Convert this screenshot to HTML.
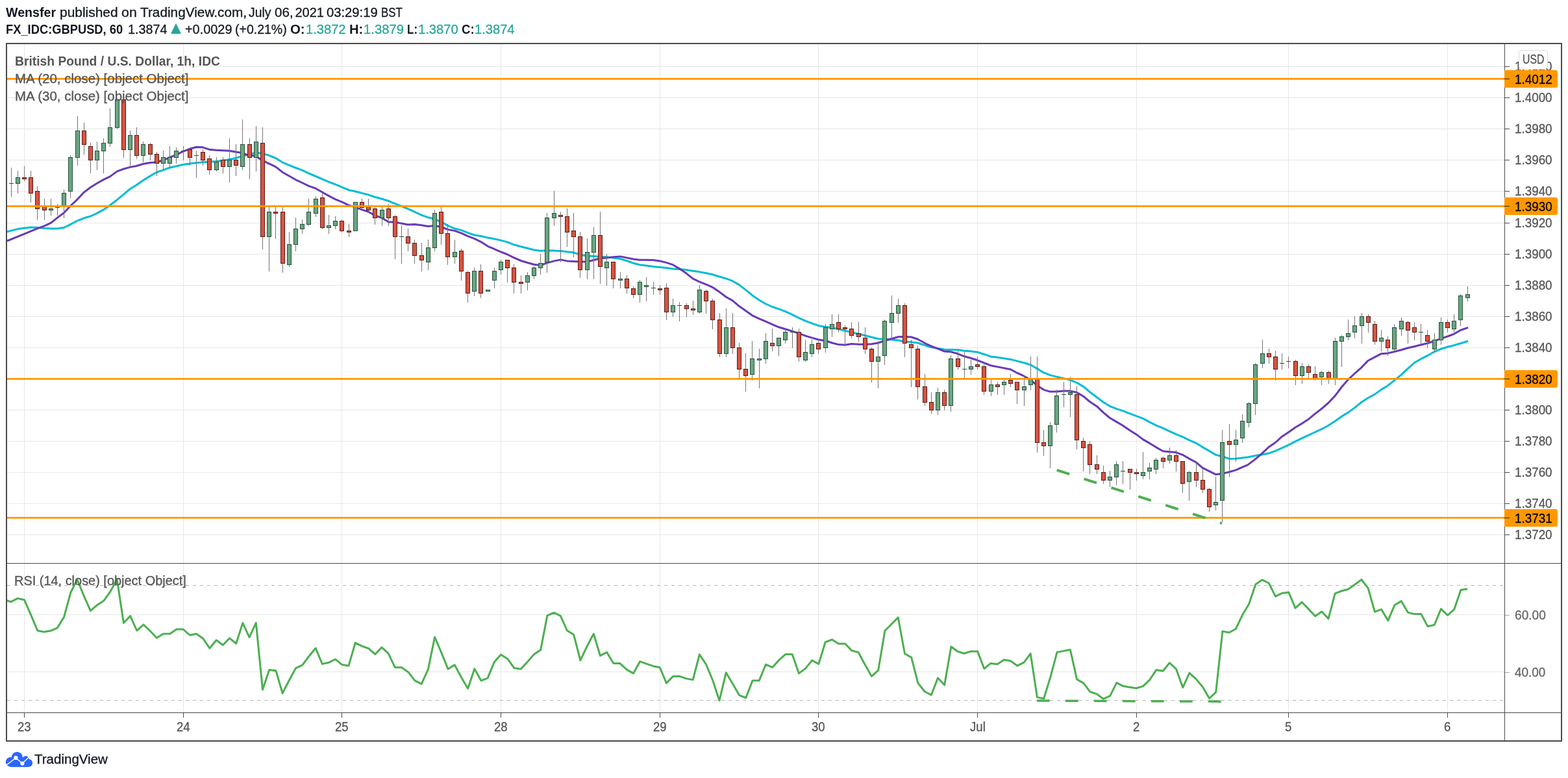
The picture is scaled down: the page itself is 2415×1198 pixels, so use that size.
<!DOCTYPE html><html lang="en"><head><meta charset="utf-8"><title>GBPUSD chart - TradingView</title><style>
html,body{margin:0;padding:0;background:#fff;}
body{width:2415px;height:1198px;position:relative;overflow:hidden;font-family:"Liberation Sans",sans-serif;}
.cv{position:absolute;left:0;top:0;}
.t{position:absolute;display:block;white-space:pre;line-height:1;transform-origin:0 0;}
.ob{position:absolute;left:2317px;width:82px;height:27px;background:#ff9800;border-radius:0 3px 3px 0;z-index:2;}
.ob i{position:absolute;left:0;top:13px;width:8px;height:1px;background:#2a2a2a;}
.usd{position:absolute;left:2339px;top:77px;width:43px;height:28px;border:1px solid #d6d9e0;border-radius:5px;background:#fff;z-index:4;}
.tri{position:absolute;left:262.6px;top:35.6px;width:0;height:0;border-left:8.5px solid transparent;border-right:8.5px solid transparent;border-bottom:16.4px solid #26a69a;}
.logo{position:absolute;left:0;top:1145px;}
</style></head><body>
<header>
<span class="t" style="left:9.44px;top:8.90px;font-size:20px;color:#131722;font-weight:bold;transform:scaleX(0.9812);">Wensfer</span>
<span class="t" style="left:92.10px;top:8.90px;font-size:20px;color:#131722;-webkit-text-stroke:0.3px #131722;transform:scaleX(1.0464);">published</span>
<span class="t" style="left:186.97px;top:8.90px;font-size:20px;color:#131722;-webkit-text-stroke:0.3px #131722;transform:scaleX(1.0686);">on</span>
<span class="t" style="left:215.62px;top:8.90px;font-size:20px;color:#131722;-webkit-text-stroke:0.3px #131722;transform:scaleX(1.0395);">TradingView.com,</span>
<span class="t" style="left:383.46px;top:8.90px;font-size:20px;color:#131722;-webkit-text-stroke:0.3px #131722;transform:scaleX(0.9650);">July</span>
<span class="t" style="left:422.56px;top:8.90px;font-size:20px;color:#131722;-webkit-text-stroke:0.3px #131722;transform:scaleX(1.0317);">06,</span>
<span class="t" style="left:454.50px;top:8.90px;font-size:20px;color:#131722;-webkit-text-stroke:0.3px #131722;">2021</span>
<span class="t" style="left:503.38px;top:8.90px;font-size:20px;color:#131722;-webkit-text-stroke:0.3px #131722;transform:scaleX(1.0112);">03:29:19</span>
<span class="t" style="left:587.22px;top:8.90px;font-size:20px;color:#131722;-webkit-text-stroke:0.3px #131722;transform:scaleX(0.8410);">BST</span>
<span class="t" style="left:9.15px;top:34.80px;font-size:20px;color:#131722;font-weight:bold;transform:scaleX(0.9158);">FX_IDC:GBPUSD, 60</span>
<span class="t" style="left:197.28px;top:34.80px;font-size:20px;color:#131722;-webkit-text-stroke:0.3px #131722;transform:scaleX(0.9901);">1.3874</span>
<span class="tri"></span>
<span class="t" style="left:284.62px;top:34.80px;font-size:20px;color:#131722;-webkit-text-stroke:0.3px #131722;transform:scaleX(0.9947);">+0.0029</span>
<span class="t" style="left:361.96px;top:34.80px;font-size:20px;color:#131722;-webkit-text-stroke:0.3px #131722;transform:scaleX(0.9757);">(+0.21%)</span>
<span class="t" style="left:447.49px;top:34.80px;font-size:20px;color:#131722;font-weight:bold;transform:scaleX(1.0183);">O:</span>
<span class="t" style="left:470.55px;top:34.80px;font-size:20px;color:#26a69a;-webkit-text-stroke:0.3px #26a69a;transform:scaleX(1.0053);">1.3872</span>
<span class="t" style="left:537.53px;top:34.80px;font-size:20px;color:#131722;font-weight:bold;transform:scaleX(1.0070);">H:</span>
<span class="t" style="left:559.54px;top:34.80px;font-size:20px;color:#26a69a;-webkit-text-stroke:0.3px #26a69a;transform:scaleX(1.0120);">1.3879</span>
<span class="t" style="left:626.74px;top:34.80px;font-size:20px;color:#131722;font-weight:bold;transform:scaleX(0.8515);">L:</span>
<span class="t" style="left:643.85px;top:34.80px;font-size:20px;color:#26a69a;-webkit-text-stroke:0.3px #26a69a;transform:scaleX(1.0094);">1.3870</span>
<span class="t" style="left:710.57px;top:34.80px;font-size:20px;color:#131722;font-weight:bold;transform:scaleX(0.9321);">C:</span>
<span class="t" style="left:730.65px;top:34.80px;font-size:20px;color:#26a69a;-webkit-text-stroke:0.3px #26a69a;transform:scaleX(1.0054);">1.3874</span>
</header>
<main>
<svg class="cv" width="2415" height="1198" viewBox="0 0 2415 1198">
<g fill="#e6e6e6" shape-rendering="crispEdges">
<rect x="37" y="68" width="1" height="799"/><rect x="37" y="868" width="1" height="229"/>
<rect x="282" y="68" width="1" height="799"/><rect x="282" y="868" width="1" height="229"/>
<rect x="526" y="68" width="1" height="799"/><rect x="526" y="868" width="1" height="229"/>
<rect x="771" y="68" width="1" height="799"/><rect x="771" y="868" width="1" height="229"/>
<rect x="1016" y="68" width="1" height="799"/><rect x="1016" y="868" width="1" height="229"/>
<rect x="1260" y="68" width="1" height="799"/><rect x="1260" y="868" width="1" height="229"/>
<rect x="1505" y="68" width="1" height="799"/><rect x="1505" y="868" width="1" height="229"/>
<rect x="1750" y="68" width="1" height="799"/><rect x="1750" y="868" width="1" height="229"/>
<rect x="1984" y="68" width="1" height="799"/><rect x="1984" y="868" width="1" height="229"/>
<rect x="2229" y="68" width="1" height="799"/><rect x="2229" y="868" width="1" height="229"/>
<rect x="11" y="102" width="2306" height="1"/>
<rect x="11" y="150" width="2306" height="1"/>
<rect x="11" y="198" width="2306" height="1"/>
<rect x="11" y="246" width="2306" height="1"/>
<rect x="11" y="294" width="2306" height="1"/>
<rect x="11" y="343" width="2306" height="1"/>
<rect x="11" y="391" width="2306" height="1"/>
<rect x="11" y="439" width="2306" height="1"/>
<rect x="11" y="487" width="2306" height="1"/>
<rect x="11" y="535" width="2306" height="1"/>
<rect x="11" y="583" width="2306" height="1"/>
<rect x="11" y="631" width="2306" height="1"/>
<rect x="11" y="679" width="2306" height="1"/>
<rect x="11" y="727" width="2306" height="1"/>
<rect x="11" y="775" width="2306" height="1"/>
<rect x="11" y="823" width="2306" height="1"/>
<rect x="11" y="946" width="2306" height="1"/>
<rect x="11" y="1034" width="2306" height="1"/>
</g>
<g stroke="#b4b4b4" stroke-width="1" stroke-dasharray="5 6" shape-rendering="crispEdges">
<line x1="11" y1="901.5" x2="2317" y2="901.5"/><line x1="11" y1="1078.5" x2="2317" y2="1078.5"/>
</g>
<svg x="11" y="68" width="2306" height="799" viewBox="11 68 2306 799">
<polyline fill="none" stroke="#00bcd4" stroke-width="3" stroke-linejoin="round" stroke-linecap="butt" points="10.9,356.8 27.5,352.6 47.6,350.1 57.6,350.5 68.4,351.5 78.5,352.1 88.5,352.1 98.5,350.5 108.5,345.6 119.4,339.8 129.4,335.8 139.4,333.0 149.4,328.4 159.4,322.9 169.4,316.0 180.3,307.7 190.3,299.3 200.3,291.0 210.4,284.8 220.4,277.7 231.2,271.1 241.2,265.2 251.3,261.9 261.3,258.2 271.3,256.0 282.1,253.5 292.2,251.9 302.2,250.7 312.2,249.8 322.2,249.3 333.4,248.5 343.4,247.3 353.4,245.5 363.4,243.5 373.5,240.2 385.6,237.2 394.5,235.0 404.5,236.4 414.6,239.4 424.6,243.5 435.1,250.1 445.4,254.3 455.5,258.5 465.5,262.2 475.5,266.8 486.3,271.5 496.4,275.8 506.4,280.2 516.4,283.9 526.4,288.2 537.3,292.7 547.3,294.7 557.3,297.4 567.3,299.9 577.3,303.3 588.2,306.2 598.4,309.5 608.4,313.6 618.4,317.5 628.4,321.6 638.4,326.2 649.1,331.2 659.2,334.8 669.3,337.3 679.7,341.7 689.7,347.4 700.2,352.0 710.2,354.4 720.4,358.4 730.5,362.0 740.7,363.5 751.2,366.1 760.9,367.8 771.4,370.1 780.8,372.6 791.7,376.8 802.4,379.8 812.4,382.3 822.4,384.8 832.5,386.3 842.5,385.7 853.5,386.0 863.5,386.5 873.5,387.7 883.5,388.8 893.6,392.2 904.4,394.0 914.4,394.4 924.4,395.2 934.5,395.7 944.5,396.9 955.3,398.5 965.3,401.5 975.4,405.2 985.4,407.7 995.4,409.0 1006.2,410.6 1016.3,411.6 1026.3,412.4 1036.3,414.1 1046.3,414.4 1057.2,415.6 1067.2,417.2 1077.2,418.6 1087.2,420.5 1097.6,422.7 1108.1,426.0 1118.2,428.9 1128.3,432.7 1138.4,438.6 1148.5,446.4 1159.6,455.4 1169.5,462.2 1179.6,468.0 1189.6,472.5 1199.6,475.9 1209.6,479.7 1220.5,484.7 1230.5,489.7 1240.5,494.2 1250.5,497.9 1260.5,501.4 1271.6,503.4 1281.6,504.8 1291.6,506.8 1301.6,509.3 1311.6,511.8 1322.5,514.3 1332.5,516.8 1342.5,519.3 1352.5,521.8 1362.5,522.3 1373.4,523.0 1383.4,524.0 1393.4,526.0 1403.4,526.8 1413.5,528.0 1424.5,531.8 1434.5,534.8 1444.5,536.5 1454.5,538.2 1464.5,538.5 1475.4,538.8 1485.4,540.2 1495.4,541.0 1505.6,542.3 1517.8,546.2 1526.5,549.3 1536.4,550.3 1556.4,553.4 1566.4,555.9 1577.3,558.7 1587.3,561.7 1597.3,567.6 1607.3,573.7 1617.3,577.6 1627.3,580.1 1638.2,582.6 1648.2,585.1 1658.4,589.3 1668.4,595.1 1678.4,603.5 1689.3,611.8 1699.3,619.3 1709.3,625.5 1719.3,629.3 1729.3,632.7 1740.2,636.8 1750.2,640.7 1760.4,644.4 1770.4,649.9 1780.4,654.9 1791.3,659.4 1801.3,664.1 1811.3,668.6 1821.3,672.7 1831.4,677.7 1842.2,682.3 1852.2,688.6 1861.1,693.6 1872.5,700.4 1882.7,703.0 1893.2,706.4 1903.3,706.3 1913.4,704.9 1921.7,704.0 1933.6,701.6 1943.8,699.9 1954.0,698.1 1964.3,694.4 1974.5,689.9 1984.7,685.2 1994.9,679.9 2005.1,674.9 2015.3,670.2 2025.4,665.5 2035.6,660.7 2045.8,655.2 2056.2,648.5 2066.3,641.3 2076.5,635.1 2086.7,627.6 2096.7,619.5 2107.0,612.7 2117.4,607.1 2127.5,599.9 2137.6,593.7 2147.7,585.6 2158.2,577.2 2168.3,567.6 2178.5,558.5 2188.5,552.7 2198.5,547.7 2209.3,541.5 2219.4,537.3 2229.4,534.3 2239.4,531.8 2249.4,528.8 2261.1,525.2"/>
<polyline fill="none" stroke="#673ab7" stroke-width="3" stroke-linejoin="round" stroke-linecap="butt" points="10.9,371.0 37.6,360.1 57.6,351.8 68.4,347.9 78.5,343.1 88.5,335.1 98.5,327.7 108.5,317.0 119.4,306.8 129.4,296.1 139.4,288.5 149.4,282.2 159.4,276.6 169.4,271.9 180.3,263.9 190.3,260.2 200.3,257.4 210.4,255.5 220.4,252.4 231.2,250.5 241.2,249.8 251.3,246.8 261.3,242.3 271.3,238.5 282.1,233.2 292.2,229.3 302.2,226.5 312.2,226.8 322.2,230.2 333.4,231.3 343.4,231.7 353.4,232.2 363.4,234.0 373.5,235.5 382.2,239.1 394.0,240.3 402.3,246.0 414.6,252.1 424.6,256.8 435.1,265.2 445.4,271.0 455.5,276.8 465.5,281.5 475.5,286.4 486.3,290.2 496.4,296.0 506.4,301.6 516.4,306.8 526.4,310.8 537.3,316.1 547.3,319.1 557.3,322.9 567.3,326.0 577.3,331.6 588.2,335.6 598.4,341.8 608.4,342.0 618.4,344.1 628.4,345.9 638.4,345.4 649.1,346.7 659.2,348.4 669.3,347.5 679.7,349.5 689.7,353.4 700.2,355.4 710.2,358.9 720.4,363.7 730.5,367.3 740.6,372.3 751.5,379.3 760.7,383.2 771.4,387.9 780.8,391.5 791.7,396.9 802.4,401.5 812.4,404.5 822.4,407.2 832.5,408.5 842.5,404.9 853.5,401.9 863.5,399.9 873.5,401.9 883.5,402.4 893.6,403.0 904.4,403.0 914.4,400.5 924.4,397.7 934.5,396.9 944.5,395.7 955.3,394.9 965.3,396.9 975.4,399.0 985.4,400.2 995.4,400.2 1006.2,400.5 1016.3,401.9 1026.3,404.4 1036.3,407.7 1046.3,413.6 1057.2,421.1 1067.2,429.1 1077.2,433.9 1087.2,437.9 1097.6,442.4 1108.1,449.6 1118.2,457.3 1128.3,462.9 1138.9,471.8 1148.5,478.5 1159.3,486.2 1169.5,490.9 1179.6,495.1 1189.6,499.6 1199.6,503.8 1209.6,506.8 1220.5,510.1 1230.5,513.4 1240.5,517.1 1250.5,520.1 1260.5,523.0 1271.6,524.8 1281.6,528.0 1291.6,530.6 1301.6,531.3 1311.6,529.6 1322.5,530.3 1332.5,530.3 1342.5,529.8 1352.5,528.0 1362.5,524.8 1373.4,521.5 1383.4,518.8 1393.4,518.5 1403.4,519.0 1413.5,522.3 1424.5,528.5 1434.5,533.1 1444.5,536.8 1454.5,541.0 1464.5,541.8 1475.4,544.8 1485.4,548.8 1495.4,551.5 1505.6,554.8 1517.8,559.7 1526.5,563.0 1536.4,564.9 1556.4,568.7 1566.4,574.2 1577.3,579.2 1587.3,585.1 1597.3,593.4 1607.3,600.1 1617.3,603.1 1627.3,603.0 1638.2,602.1 1648.2,602.1 1658.4,604.3 1668.4,610.1 1678.4,618.5 1689.3,625.7 1699.3,635.2 1709.3,643.5 1719.3,649.4 1729.3,655.2 1740.2,662.7 1750.2,668.9 1760.4,676.6 1770.4,682.4 1780.4,688.6 1791.3,694.8 1801.3,695.8 1811.3,696.6 1821.3,700.3 1831.4,706.1 1842.2,712.0 1852.2,720.3 1861.1,724.9 1872.5,730.6 1882.7,729.4 1893.2,726.7 1903.3,723.9 1913.4,719.4 1921.7,715.9 1933.6,706.9 1943.8,698.2 1954.0,688.5 1964.3,681.5 1974.5,672.2 1984.7,665.5 1994.9,658.2 2005.1,652.2 2015.3,645.6 2025.4,637.1 2035.6,629.3 2045.8,620.5 2056.3,609.4 2066.4,596.0 2076.5,584.3 2086.6,575.0 2096.7,566.1 2106.8,555.5 2117.5,549.9 2127.5,544.7 2137.6,543.9 2147.6,541.5 2158.4,538.8 2168.4,535.7 2178.5,533.5 2188.5,531.0 2198.5,528.5 2209.3,525.2 2219.4,521.3 2229.4,518.0 2239.4,514.3 2249.4,508.5 2261.1,504.3"/>
<g shape-rendering="crispEdges">
<rect x="17" y="258" width="1" height="45" fill="#737375"/>
<rect x="14" y="282" width="7" height="1" fill="#225437"/>
<rect x="27" y="263" width="1" height="35" fill="#737375"/>
<rect x="24" y="273" width="7" height="10" fill="#225437"/>
<rect x="25" y="274" width="5" height="8" fill="#6ba583"/>
<rect x="37" y="256" width="1" height="23" fill="#737375"/>
<rect x="34" y="273" width="7" height="3" fill="#5b1a13"/>
<rect x="35" y="274" width="5" height="1" fill="#d75442"/>
<rect x="47" y="263" width="1" height="49" fill="#737375"/>
<rect x="44" y="273" width="7" height="25" fill="#5b1a13"/>
<rect x="45" y="274" width="5" height="23" fill="#d75442"/>
<rect x="57" y="287" width="1" height="52" fill="#737375"/>
<rect x="54" y="294" width="7" height="28" fill="#5b1a13"/>
<rect x="55" y="295" width="5" height="26" fill="#d75442"/>
<rect x="68" y="306" width="1" height="33" fill="#737375"/>
<rect x="65" y="317" width="7" height="7" fill="#5b1a13"/>
<rect x="66" y="318" width="5" height="5" fill="#d75442"/>
<rect x="78" y="306" width="1" height="26" fill="#737375"/>
<rect x="75" y="321" width="7" height="3" fill="#225437"/>
<rect x="76" y="322" width="5" height="1" fill="#6ba583"/>
<rect x="88" y="314" width="1" height="18" fill="#737375"/>
<rect x="85" y="319" width="7" height="1" fill="#225437"/>
<rect x="98" y="292" width="1" height="44" fill="#737375"/>
<rect x="95" y="297" width="7" height="20" fill="#225437"/>
<rect x="96" y="298" width="5" height="18" fill="#6ba583"/>
<rect x="108" y="239" width="1" height="66" fill="#737375"/>
<rect x="105" y="242" width="7" height="53" fill="#225437"/>
<rect x="106" y="243" width="5" height="51" fill="#6ba583"/>
<rect x="119" y="179" width="1" height="76" fill="#737375"/>
<rect x="116" y="201" width="7" height="42" fill="#225437"/>
<rect x="117" y="202" width="5" height="40" fill="#6ba583"/>
<rect x="129" y="189" width="1" height="49" fill="#737375"/>
<rect x="126" y="201" width="7" height="22" fill="#5b1a13"/>
<rect x="127" y="202" width="5" height="20" fill="#d75442"/>
<rect x="139" y="220" width="1" height="47" fill="#737375"/>
<rect x="136" y="225" width="7" height="22" fill="#5b1a13"/>
<rect x="137" y="226" width="5" height="20" fill="#d75442"/>
<rect x="149" y="218" width="1" height="44" fill="#737375"/>
<rect x="146" y="232" width="7" height="15" fill="#225437"/>
<rect x="147" y="233" width="5" height="13" fill="#6ba583"/>
<rect x="159" y="213" width="1" height="54" fill="#737375"/>
<rect x="156" y="220" width="7" height="13" fill="#225437"/>
<rect x="157" y="221" width="5" height="11" fill="#6ba583"/>
<rect x="169" y="167" width="1" height="59" fill="#737375"/>
<rect x="166" y="196" width="7" height="25" fill="#225437"/>
<rect x="167" y="197" width="5" height="23" fill="#6ba583"/>
<rect x="180" y="153" width="1" height="46" fill="#737375"/>
<rect x="177" y="153" width="7" height="44" fill="#225437"/>
<rect x="178" y="154" width="5" height="42" fill="#6ba583"/>
<rect x="190" y="153" width="1" height="90" fill="#737375"/>
<rect x="187" y="153" width="7" height="78" fill="#5b1a13"/>
<rect x="188" y="154" width="5" height="76" fill="#d75442"/>
<rect x="200" y="201" width="1" height="56" fill="#737375"/>
<rect x="197" y="208" width="7" height="23" fill="#225437"/>
<rect x="198" y="209" width="5" height="21" fill="#6ba583"/>
<rect x="210" y="196" width="1" height="49" fill="#737375"/>
<rect x="207" y="208" width="7" height="32" fill="#5b1a13"/>
<rect x="208" y="209" width="5" height="30" fill="#d75442"/>
<rect x="220" y="218" width="1" height="32" fill="#737375"/>
<rect x="217" y="222" width="7" height="18" fill="#225437"/>
<rect x="218" y="223" width="5" height="16" fill="#6ba583"/>
<rect x="231" y="220" width="1" height="27" fill="#737375"/>
<rect x="228" y="222" width="7" height="16" fill="#5b1a13"/>
<rect x="229" y="223" width="5" height="14" fill="#d75442"/>
<rect x="241" y="234" width="1" height="37" fill="#737375"/>
<rect x="238" y="237" width="7" height="15" fill="#5b1a13"/>
<rect x="239" y="238" width="5" height="13" fill="#d75442"/>
<rect x="251" y="232" width="1" height="30" fill="#737375"/>
<rect x="248" y="242" width="7" height="10" fill="#225437"/>
<rect x="249" y="243" width="5" height="8" fill="#6ba583"/>
<rect x="261" y="225" width="1" height="34" fill="#737375"/>
<rect x="258" y="242" width="7" height="10" fill="#225437"/>
<rect x="259" y="243" width="5" height="8" fill="#6ba583"/>
<rect x="271" y="227" width="1" height="25" fill="#737375"/>
<rect x="268" y="232" width="7" height="11" fill="#225437"/>
<rect x="269" y="233" width="5" height="9" fill="#6ba583"/>
<rect x="282" y="225" width="1" height="22" fill="#737375"/>
<rect x="279" y="232" width="7" height="1" fill="#225437"/>
<rect x="292" y="227" width="1" height="28" fill="#737375"/>
<rect x="289" y="230" width="7" height="13" fill="#5b1a13"/>
<rect x="290" y="231" width="5" height="11" fill="#d75442"/>
<rect x="302" y="232" width="1" height="42" fill="#737375"/>
<rect x="299" y="239" width="7" height="1" fill="#225437"/>
<rect x="312" y="230" width="1" height="25" fill="#737375"/>
<rect x="309" y="234" width="7" height="13" fill="#5b1a13"/>
<rect x="310" y="235" width="5" height="11" fill="#d75442"/>
<rect x="322" y="239" width="1" height="30" fill="#737375"/>
<rect x="319" y="244" width="7" height="18" fill="#5b1a13"/>
<rect x="320" y="245" width="5" height="16" fill="#d75442"/>
<rect x="333" y="242" width="1" height="22" fill="#737375"/>
<rect x="330" y="249" width="7" height="13" fill="#225437"/>
<rect x="331" y="250" width="5" height="11" fill="#6ba583"/>
<rect x="343" y="242" width="1" height="25" fill="#737375"/>
<rect x="340" y="246" width="7" height="11" fill="#5b1a13"/>
<rect x="341" y="247" width="5" height="9" fill="#d75442"/>
<rect x="353" y="213" width="1" height="68" fill="#737375"/>
<rect x="350" y="246" width="7" height="11" fill="#225437"/>
<rect x="351" y="247" width="5" height="9" fill="#6ba583"/>
<rect x="363" y="222" width="1" height="49" fill="#737375"/>
<rect x="360" y="246" width="7" height="9" fill="#5b1a13"/>
<rect x="361" y="247" width="5" height="7" fill="#d75442"/>
<rect x="373" y="184" width="1" height="78" fill="#737375"/>
<rect x="370" y="222" width="7" height="35" fill="#225437"/>
<rect x="371" y="223" width="5" height="33" fill="#6ba583"/>
<rect x="384" y="213" width="1" height="63" fill="#737375"/>
<rect x="381" y="222" width="7" height="21" fill="#5b1a13"/>
<rect x="382" y="223" width="5" height="19" fill="#d75442"/>
<rect x="394" y="194" width="1" height="70" fill="#737375"/>
<rect x="391" y="218" width="7" height="25" fill="#225437"/>
<rect x="392" y="219" width="5" height="23" fill="#6ba583"/>
<rect x="404" y="196" width="1" height="188" fill="#737375"/>
<rect x="401" y="220" width="7" height="145" fill="#5b1a13"/>
<rect x="402" y="221" width="5" height="143" fill="#d75442"/>
<rect x="414" y="319" width="1" height="99" fill="#737375"/>
<rect x="411" y="326" width="7" height="39" fill="#225437"/>
<rect x="412" y="327" width="5" height="37" fill="#6ba583"/>
<rect x="424" y="319" width="1" height="49" fill="#737375"/>
<rect x="421" y="326" width="7" height="3" fill="#5b1a13"/>
<rect x="422" y="327" width="5" height="1" fill="#d75442"/>
<rect x="435" y="319" width="1" height="101" fill="#737375"/>
<rect x="432" y="326" width="7" height="80" fill="#5b1a13"/>
<rect x="433" y="327" width="5" height="78" fill="#d75442"/>
<rect x="445" y="357" width="1" height="54" fill="#737375"/>
<rect x="442" y="376" width="7" height="32" fill="#225437"/>
<rect x="443" y="377" width="5" height="30" fill="#6ba583"/>
<rect x="455" y="335" width="1" height="52" fill="#737375"/>
<rect x="452" y="352" width="7" height="25" fill="#225437"/>
<rect x="453" y="353" width="5" height="23" fill="#6ba583"/>
<rect x="465" y="338" width="1" height="22" fill="#737375"/>
<rect x="462" y="345" width="7" height="8" fill="#225437"/>
<rect x="463" y="346" width="5" height="6" fill="#6ba583"/>
<rect x="475" y="306" width="1" height="42" fill="#737375"/>
<rect x="472" y="326" width="7" height="20" fill="#225437"/>
<rect x="473" y="327" width="5" height="18" fill="#6ba583"/>
<rect x="486" y="302" width="1" height="32" fill="#737375"/>
<rect x="483" y="306" width="7" height="23" fill="#225437"/>
<rect x="484" y="307" width="5" height="21" fill="#6ba583"/>
<rect x="496" y="297" width="1" height="56" fill="#737375"/>
<rect x="493" y="304" width="7" height="47" fill="#5b1a13"/>
<rect x="494" y="305" width="5" height="45" fill="#d75442"/>
<rect x="506" y="331" width="1" height="29" fill="#737375"/>
<rect x="503" y="347" width="7" height="4" fill="#225437"/>
<rect x="504" y="348" width="5" height="2" fill="#6ba583"/>
<rect x="516" y="333" width="1" height="20" fill="#737375"/>
<rect x="513" y="340" width="7" height="8" fill="#225437"/>
<rect x="514" y="341" width="5" height="6" fill="#6ba583"/>
<rect x="526" y="338" width="1" height="20" fill="#737375"/>
<rect x="523" y="340" width="7" height="16" fill="#5b1a13"/>
<rect x="524" y="341" width="5" height="14" fill="#d75442"/>
<rect x="537" y="345" width="1" height="20" fill="#737375"/>
<rect x="534" y="355" width="7" height="3" fill="#5b1a13"/>
<rect x="535" y="356" width="5" height="1" fill="#d75442"/>
<rect x="547" y="311" width="1" height="45" fill="#737375"/>
<rect x="544" y="311" width="7" height="45" fill="#225437"/>
<rect x="545" y="312" width="5" height="43" fill="#6ba583"/>
<rect x="557" y="306" width="1" height="18" fill="#737375"/>
<rect x="554" y="311" width="7" height="9" fill="#5b1a13"/>
<rect x="555" y="312" width="5" height="7" fill="#d75442"/>
<rect x="567" y="306" width="1" height="21" fill="#737375"/>
<rect x="564" y="317" width="7" height="7" fill="#5b1a13"/>
<rect x="565" y="318" width="5" height="5" fill="#d75442"/>
<rect x="577" y="319" width="1" height="27" fill="#737375"/>
<rect x="574" y="321" width="7" height="15" fill="#5b1a13"/>
<rect x="575" y="322" width="5" height="13" fill="#d75442"/>
<rect x="588" y="319" width="1" height="29" fill="#737375"/>
<rect x="585" y="323" width="7" height="13" fill="#225437"/>
<rect x="586" y="324" width="5" height="11" fill="#6ba583"/>
<rect x="598" y="314" width="1" height="34" fill="#737375"/>
<rect x="595" y="321" width="7" height="15" fill="#5b1a13"/>
<rect x="596" y="322" width="5" height="13" fill="#d75442"/>
<rect x="608" y="331" width="1" height="68" fill="#737375"/>
<rect x="605" y="333" width="7" height="32" fill="#5b1a13"/>
<rect x="606" y="334" width="5" height="30" fill="#d75442"/>
<rect x="618" y="347" width="1" height="59" fill="#737375"/>
<rect x="615" y="364" width="7" height="1" fill="#225437"/>
<rect x="628" y="352" width="1" height="35" fill="#737375"/>
<rect x="625" y="364" width="7" height="11" fill="#5b1a13"/>
<rect x="626" y="365" width="5" height="9" fill="#d75442"/>
<rect x="638" y="369" width="1" height="37" fill="#737375"/>
<rect x="635" y="374" width="7" height="20" fill="#5b1a13"/>
<rect x="636" y="375" width="5" height="18" fill="#d75442"/>
<rect x="649" y="374" width="1" height="44" fill="#737375"/>
<rect x="646" y="393" width="7" height="8" fill="#5b1a13"/>
<rect x="647" y="394" width="5" height="6" fill="#d75442"/>
<rect x="659" y="369" width="1" height="47" fill="#737375"/>
<rect x="656" y="381" width="7" height="23" fill="#225437"/>
<rect x="657" y="382" width="5" height="21" fill="#6ba583"/>
<rect x="669" y="323" width="1" height="64" fill="#737375"/>
<rect x="666" y="328" width="7" height="54" fill="#225437"/>
<rect x="667" y="329" width="5" height="52" fill="#6ba583"/>
<rect x="679" y="319" width="1" height="58" fill="#737375"/>
<rect x="676" y="326" width="7" height="34" fill="#5b1a13"/>
<rect x="677" y="327" width="5" height="32" fill="#d75442"/>
<rect x="689" y="345" width="1" height="63" fill="#737375"/>
<rect x="686" y="359" width="7" height="37" fill="#5b1a13"/>
<rect x="687" y="360" width="5" height="35" fill="#d75442"/>
<rect x="700" y="369" width="1" height="37" fill="#737375"/>
<rect x="697" y="388" width="7" height="8" fill="#225437"/>
<rect x="698" y="389" width="5" height="6" fill="#6ba583"/>
<rect x="710" y="383" width="1" height="49" fill="#737375"/>
<rect x="707" y="386" width="7" height="32" fill="#5b1a13"/>
<rect x="708" y="387" width="5" height="30" fill="#d75442"/>
<rect x="720" y="417" width="1" height="49" fill="#737375"/>
<rect x="717" y="419" width="7" height="33" fill="#5b1a13"/>
<rect x="718" y="420" width="5" height="31" fill="#d75442"/>
<rect x="730" y="412" width="1" height="44" fill="#737375"/>
<rect x="727" y="417" width="7" height="32" fill="#225437"/>
<rect x="728" y="418" width="5" height="30" fill="#6ba583"/>
<rect x="740" y="407" width="1" height="52" fill="#737375"/>
<rect x="737" y="417" width="7" height="35" fill="#5b1a13"/>
<rect x="738" y="418" width="5" height="33" fill="#d75442"/>
<rect x="751" y="446" width="1" height="2" fill="#737375"/>
<rect x="748" y="446" width="7" height="3" fill="#225437"/>
<rect x="749" y="447" width="5" height="1" fill="#6ba583"/>
<rect x="761" y="412" width="1" height="32" fill="#737375"/>
<rect x="758" y="417" width="7" height="15" fill="#225437"/>
<rect x="759" y="418" width="5" height="13" fill="#6ba583"/>
<rect x="771" y="400" width="1" height="23" fill="#737375"/>
<rect x="768" y="403" width="7" height="13" fill="#225437"/>
<rect x="769" y="404" width="5" height="11" fill="#6ba583"/>
<rect x="781" y="400" width="1" height="35" fill="#737375"/>
<rect x="778" y="400" width="7" height="13" fill="#5b1a13"/>
<rect x="779" y="401" width="5" height="11" fill="#d75442"/>
<rect x="791" y="407" width="1" height="45" fill="#737375"/>
<rect x="788" y="412" width="7" height="23" fill="#5b1a13"/>
<rect x="789" y="413" width="5" height="21" fill="#d75442"/>
<rect x="802" y="424" width="1" height="28" fill="#737375"/>
<rect x="799" y="434" width="7" height="3" fill="#5b1a13"/>
<rect x="800" y="435" width="5" height="1" fill="#d75442"/>
<rect x="812" y="419" width="1" height="28" fill="#737375"/>
<rect x="809" y="424" width="7" height="11" fill="#225437"/>
<rect x="810" y="425" width="5" height="9" fill="#6ba583"/>
<rect x="822" y="410" width="1" height="20" fill="#737375"/>
<rect x="819" y="412" width="7" height="13" fill="#225437"/>
<rect x="820" y="413" width="5" height="11" fill="#6ba583"/>
<rect x="832" y="391" width="1" height="32" fill="#737375"/>
<rect x="829" y="405" width="7" height="8" fill="#225437"/>
<rect x="830" y="406" width="5" height="6" fill="#6ba583"/>
<rect x="842" y="328" width="1" height="92" fill="#737375"/>
<rect x="839" y="335" width="7" height="69" fill="#225437"/>
<rect x="840" y="336" width="5" height="67" fill="#6ba583"/>
<rect x="853" y="294" width="1" height="54" fill="#737375"/>
<rect x="850" y="328" width="7" height="8" fill="#225437"/>
<rect x="851" y="329" width="5" height="6" fill="#6ba583"/>
<rect x="863" y="326" width="1" height="78" fill="#737375"/>
<rect x="860" y="331" width="7" height="3" fill="#5b1a13"/>
<rect x="861" y="332" width="5" height="1" fill="#d75442"/>
<rect x="873" y="321" width="1" height="59" fill="#737375"/>
<rect x="870" y="333" width="7" height="25" fill="#5b1a13"/>
<rect x="871" y="334" width="5" height="23" fill="#d75442"/>
<rect x="883" y="328" width="1" height="68" fill="#737375"/>
<rect x="880" y="355" width="7" height="10" fill="#5b1a13"/>
<rect x="881" y="356" width="5" height="8" fill="#d75442"/>
<rect x="893" y="357" width="1" height="71" fill="#737375"/>
<rect x="890" y="364" width="7" height="52" fill="#5b1a13"/>
<rect x="891" y="365" width="5" height="50" fill="#d75442"/>
<rect x="904" y="367" width="1" height="63" fill="#737375"/>
<rect x="901" y="388" width="7" height="28" fill="#225437"/>
<rect x="902" y="389" width="5" height="26" fill="#6ba583"/>
<rect x="914" y="350" width="1" height="80" fill="#737375"/>
<rect x="911" y="362" width="7" height="27" fill="#225437"/>
<rect x="912" y="363" width="5" height="25" fill="#6ba583"/>
<rect x="924" y="326" width="1" height="111" fill="#737375"/>
<rect x="921" y="362" width="7" height="49" fill="#5b1a13"/>
<rect x="922" y="363" width="5" height="47" fill="#d75442"/>
<rect x="934" y="391" width="1" height="49" fill="#737375"/>
<rect x="931" y="403" width="7" height="10" fill="#225437"/>
<rect x="932" y="404" width="5" height="8" fill="#6ba583"/>
<rect x="944" y="403" width="1" height="41" fill="#737375"/>
<rect x="941" y="403" width="7" height="27" fill="#5b1a13"/>
<rect x="942" y="404" width="5" height="25" fill="#d75442"/>
<rect x="955" y="419" width="1" height="25" fill="#737375"/>
<rect x="952" y="429" width="7" height="3" fill="#225437"/>
<rect x="953" y="430" width="5" height="1" fill="#6ba583"/>
<rect x="965" y="424" width="1" height="28" fill="#737375"/>
<rect x="962" y="429" width="7" height="15" fill="#5b1a13"/>
<rect x="963" y="430" width="5" height="13" fill="#d75442"/>
<rect x="975" y="441" width="1" height="18" fill="#737375"/>
<rect x="972" y="444" width="7" height="10" fill="#5b1a13"/>
<rect x="973" y="445" width="5" height="8" fill="#d75442"/>
<rect x="985" y="431" width="1" height="35" fill="#737375"/>
<rect x="982" y="434" width="7" height="20" fill="#225437"/>
<rect x="983" y="435" width="5" height="18" fill="#6ba583"/>
<rect x="995" y="427" width="1" height="37" fill="#737375"/>
<rect x="992" y="439" width="7" height="3" fill="#225437"/>
<rect x="993" y="440" width="5" height="1" fill="#6ba583"/>
<rect x="1006" y="434" width="1" height="20" fill="#737375"/>
<rect x="1003" y="443" width="7" height="1" fill="#225437"/>
<rect x="1016" y="439" width="1" height="15" fill="#737375"/>
<rect x="1013" y="444" width="7" height="3" fill="#5b1a13"/>
<rect x="1014" y="445" width="5" height="1" fill="#d75442"/>
<rect x="1026" y="436" width="1" height="57" fill="#737375"/>
<rect x="1023" y="443" width="7" height="38" fill="#5b1a13"/>
<rect x="1024" y="444" width="5" height="36" fill="#d75442"/>
<rect x="1036" y="460" width="1" height="28" fill="#737375"/>
<rect x="1033" y="470" width="7" height="11" fill="#225437"/>
<rect x="1034" y="471" width="5" height="9" fill="#6ba583"/>
<rect x="1046" y="465" width="1" height="30" fill="#737375"/>
<rect x="1043" y="470" width="7" height="1" fill="#225437"/>
<rect x="1057" y="467" width="1" height="21" fill="#737375"/>
<rect x="1054" y="470" width="7" height="6" fill="#5b1a13"/>
<rect x="1055" y="471" width="5" height="4" fill="#d75442"/>
<rect x="1067" y="463" width="1" height="22" fill="#737375"/>
<rect x="1064" y="475" width="7" height="3" fill="#5b1a13"/>
<rect x="1065" y="476" width="5" height="1" fill="#d75442"/>
<rect x="1077" y="439" width="1" height="44" fill="#737375"/>
<rect x="1074" y="446" width="7" height="35" fill="#225437"/>
<rect x="1075" y="447" width="5" height="33" fill="#6ba583"/>
<rect x="1087" y="446" width="1" height="37" fill="#737375"/>
<rect x="1084" y="448" width="7" height="16" fill="#5b1a13"/>
<rect x="1085" y="449" width="5" height="14" fill="#d75442"/>
<rect x="1097" y="460" width="1" height="47" fill="#737375"/>
<rect x="1094" y="463" width="7" height="30" fill="#5b1a13"/>
<rect x="1095" y="464" width="5" height="28" fill="#d75442"/>
<rect x="1108" y="482" width="1" height="68" fill="#737375"/>
<rect x="1105" y="492" width="7" height="53" fill="#5b1a13"/>
<rect x="1106" y="493" width="5" height="51" fill="#d75442"/>
<rect x="1118" y="475" width="1" height="75" fill="#737375"/>
<rect x="1115" y="504" width="7" height="41" fill="#225437"/>
<rect x="1116" y="505" width="5" height="39" fill="#6ba583"/>
<rect x="1128" y="482" width="1" height="63" fill="#737375"/>
<rect x="1125" y="504" width="7" height="32" fill="#5b1a13"/>
<rect x="1126" y="505" width="5" height="30" fill="#d75442"/>
<rect x="1138" y="528" width="1" height="54" fill="#737375"/>
<rect x="1135" y="535" width="7" height="34" fill="#5b1a13"/>
<rect x="1136" y="536" width="5" height="32" fill="#d75442"/>
<rect x="1148" y="544" width="1" height="59" fill="#737375"/>
<rect x="1145" y="568" width="7" height="11" fill="#5b1a13"/>
<rect x="1146" y="569" width="5" height="9" fill="#d75442"/>
<rect x="1158" y="525" width="1" height="61" fill="#737375"/>
<rect x="1155" y="552" width="7" height="25" fill="#225437"/>
<rect x="1156" y="553" width="5" height="23" fill="#6ba583"/>
<rect x="1169" y="537" width="1" height="61" fill="#737375"/>
<rect x="1166" y="552" width="7" height="3" fill="#225437"/>
<rect x="1167" y="553" width="5" height="1" fill="#6ba583"/>
<rect x="1179" y="513" width="1" height="47" fill="#737375"/>
<rect x="1176" y="525" width="7" height="28" fill="#225437"/>
<rect x="1177" y="526" width="5" height="26" fill="#6ba583"/>
<rect x="1189" y="506" width="1" height="35" fill="#737375"/>
<rect x="1186" y="528" width="7" height="5" fill="#5b1a13"/>
<rect x="1187" y="529" width="5" height="3" fill="#d75442"/>
<rect x="1199" y="520" width="1" height="28" fill="#737375"/>
<rect x="1196" y="520" width="7" height="13" fill="#225437"/>
<rect x="1197" y="521" width="5" height="11" fill="#6ba583"/>
<rect x="1209" y="506" width="1" height="23" fill="#737375"/>
<rect x="1206" y="511" width="7" height="13" fill="#225437"/>
<rect x="1207" y="512" width="5" height="11" fill="#6ba583"/>
<rect x="1220" y="504" width="1" height="32" fill="#737375"/>
<rect x="1217" y="511" width="7" height="1" fill="#225437"/>
<rect x="1230" y="506" width="1" height="51" fill="#737375"/>
<rect x="1227" y="511" width="7" height="39" fill="#5b1a13"/>
<rect x="1228" y="512" width="5" height="37" fill="#d75442"/>
<rect x="1240" y="523" width="1" height="34" fill="#737375"/>
<rect x="1237" y="542" width="7" height="13" fill="#225437"/>
<rect x="1238" y="543" width="5" height="11" fill="#6ba583"/>
<rect x="1250" y="523" width="1" height="27" fill="#737375"/>
<rect x="1247" y="530" width="7" height="15" fill="#225437"/>
<rect x="1248" y="531" width="5" height="13" fill="#6ba583"/>
<rect x="1260" y="525" width="1" height="20" fill="#737375"/>
<rect x="1257" y="528" width="7" height="10" fill="#5b1a13"/>
<rect x="1258" y="529" width="5" height="8" fill="#d75442"/>
<rect x="1271" y="499" width="1" height="44" fill="#737375"/>
<rect x="1268" y="504" width="7" height="32" fill="#225437"/>
<rect x="1269" y="505" width="5" height="30" fill="#6ba583"/>
<rect x="1281" y="484" width="1" height="35" fill="#737375"/>
<rect x="1278" y="499" width="7" height="8" fill="#225437"/>
<rect x="1279" y="500" width="5" height="6" fill="#6ba583"/>
<rect x="1291" y="484" width="1" height="28" fill="#737375"/>
<rect x="1288" y="496" width="7" height="11" fill="#5b1a13"/>
<rect x="1289" y="497" width="5" height="9" fill="#d75442"/>
<rect x="1301" y="501" width="1" height="32" fill="#737375"/>
<rect x="1298" y="504" width="7" height="3" fill="#5b1a13"/>
<rect x="1299" y="505" width="5" height="1" fill="#d75442"/>
<rect x="1311" y="496" width="1" height="25" fill="#737375"/>
<rect x="1308" y="506" width="7" height="11" fill="#5b1a13"/>
<rect x="1309" y="507" width="5" height="9" fill="#d75442"/>
<rect x="1322" y="496" width="1" height="30" fill="#737375"/>
<rect x="1319" y="513" width="7" height="6" fill="#5b1a13"/>
<rect x="1320" y="514" width="5" height="4" fill="#d75442"/>
<rect x="1332" y="504" width="1" height="41" fill="#737375"/>
<rect x="1329" y="520" width="7" height="18" fill="#5b1a13"/>
<rect x="1330" y="521" width="5" height="16" fill="#d75442"/>
<rect x="1342" y="535" width="1" height="54" fill="#737375"/>
<rect x="1339" y="537" width="7" height="20" fill="#5b1a13"/>
<rect x="1340" y="538" width="5" height="18" fill="#d75442"/>
<rect x="1352" y="525" width="1" height="73" fill="#737375"/>
<rect x="1349" y="549" width="7" height="8" fill="#225437"/>
<rect x="1350" y="550" width="5" height="6" fill="#6ba583"/>
<rect x="1362" y="492" width="1" height="70" fill="#737375"/>
<rect x="1359" y="494" width="7" height="54" fill="#225437"/>
<rect x="1360" y="495" width="5" height="52" fill="#6ba583"/>
<rect x="1373" y="455" width="1" height="68" fill="#737375"/>
<rect x="1370" y="482" width="7" height="15" fill="#225437"/>
<rect x="1371" y="483" width="5" height="13" fill="#6ba583"/>
<rect x="1383" y="460" width="1" height="37" fill="#737375"/>
<rect x="1380" y="470" width="7" height="13" fill="#225437"/>
<rect x="1381" y="471" width="5" height="11" fill="#6ba583"/>
<rect x="1393" y="467" width="1" height="83" fill="#737375"/>
<rect x="1390" y="470" width="7" height="59" fill="#5b1a13"/>
<rect x="1391" y="471" width="5" height="57" fill="#d75442"/>
<rect x="1403" y="523" width="1" height="73" fill="#737375"/>
<rect x="1400" y="530" width="7" height="6" fill="#5b1a13"/>
<rect x="1401" y="531" width="5" height="4" fill="#d75442"/>
<rect x="1413" y="532" width="1" height="83" fill="#737375"/>
<rect x="1410" y="537" width="7" height="59" fill="#5b1a13"/>
<rect x="1411" y="538" width="5" height="57" fill="#d75442"/>
<rect x="1424" y="576" width="1" height="49" fill="#737375"/>
<rect x="1421" y="595" width="7" height="25" fill="#5b1a13"/>
<rect x="1422" y="596" width="5" height="23" fill="#d75442"/>
<rect x="1434" y="604" width="1" height="33" fill="#737375"/>
<rect x="1431" y="619" width="7" height="13" fill="#5b1a13"/>
<rect x="1432" y="620" width="5" height="11" fill="#d75442"/>
<rect x="1444" y="597" width="1" height="42" fill="#737375"/>
<rect x="1441" y="604" width="7" height="28" fill="#225437"/>
<rect x="1442" y="605" width="5" height="26" fill="#6ba583"/>
<rect x="1454" y="600" width="1" height="32" fill="#737375"/>
<rect x="1451" y="604" width="7" height="21" fill="#5b1a13"/>
<rect x="1452" y="605" width="5" height="19" fill="#d75442"/>
<rect x="1464" y="547" width="1" height="87" fill="#737375"/>
<rect x="1461" y="552" width="7" height="73" fill="#225437"/>
<rect x="1462" y="553" width="5" height="71" fill="#6ba583"/>
<rect x="1475" y="540" width="1" height="29" fill="#737375"/>
<rect x="1472" y="552" width="7" height="13" fill="#5b1a13"/>
<rect x="1473" y="553" width="5" height="11" fill="#d75442"/>
<rect x="1485" y="542" width="1" height="40" fill="#737375"/>
<rect x="1482" y="568" width="7" height="1" fill="#225437"/>
<rect x="1495" y="554" width="1" height="23" fill="#737375"/>
<rect x="1492" y="564" width="7" height="5" fill="#225437"/>
<rect x="1493" y="565" width="5" height="3" fill="#6ba583"/>
<rect x="1505" y="549" width="1" height="20" fill="#737375"/>
<rect x="1502" y="561" width="7" height="4" fill="#5b1a13"/>
<rect x="1503" y="562" width="5" height="2" fill="#d75442"/>
<rect x="1515" y="561" width="1" height="47" fill="#737375"/>
<rect x="1512" y="564" width="7" height="39" fill="#5b1a13"/>
<rect x="1513" y="565" width="5" height="37" fill="#d75442"/>
<rect x="1526" y="585" width="1" height="25" fill="#737375"/>
<rect x="1523" y="592" width="7" height="11" fill="#225437"/>
<rect x="1524" y="593" width="5" height="9" fill="#6ba583"/>
<rect x="1536" y="588" width="1" height="20" fill="#737375"/>
<rect x="1533" y="592" width="7" height="4" fill="#5b1a13"/>
<rect x="1534" y="593" width="5" height="2" fill="#d75442"/>
<rect x="1546" y="585" width="1" height="23" fill="#737375"/>
<rect x="1543" y="588" width="7" height="5" fill="#225437"/>
<rect x="1544" y="589" width="5" height="3" fill="#6ba583"/>
<rect x="1556" y="576" width="1" height="20" fill="#737375"/>
<rect x="1553" y="585" width="7" height="6" fill="#5b1a13"/>
<rect x="1554" y="586" width="5" height="4" fill="#d75442"/>
<rect x="1566" y="588" width="1" height="34" fill="#737375"/>
<rect x="1563" y="588" width="7" height="13" fill="#5b1a13"/>
<rect x="1564" y="589" width="5" height="11" fill="#d75442"/>
<rect x="1577" y="578" width="1" height="47" fill="#737375"/>
<rect x="1574" y="595" width="7" height="6" fill="#225437"/>
<rect x="1575" y="596" width="5" height="4" fill="#6ba583"/>
<rect x="1587" y="549" width="1" height="52" fill="#737375"/>
<rect x="1584" y="584" width="7" height="9" fill="#225437"/>
<rect x="1585" y="585" width="5" height="7" fill="#6ba583"/>
<rect x="1597" y="549" width="1" height="148" fill="#737375"/>
<rect x="1594" y="584" width="7" height="98" fill="#5b1a13"/>
<rect x="1595" y="585" width="5" height="96" fill="#d75442"/>
<rect x="1607" y="662" width="1" height="40" fill="#737375"/>
<rect x="1604" y="681" width="7" height="6" fill="#5b1a13"/>
<rect x="1605" y="682" width="5" height="4" fill="#d75442"/>
<rect x="1617" y="650" width="1" height="71" fill="#737375"/>
<rect x="1614" y="655" width="7" height="32" fill="#225437"/>
<rect x="1615" y="656" width="5" height="30" fill="#6ba583"/>
<rect x="1627" y="600" width="1" height="66" fill="#737375"/>
<rect x="1624" y="609" width="7" height="45" fill="#225437"/>
<rect x="1625" y="610" width="5" height="43" fill="#6ba583"/>
<rect x="1638" y="588" width="1" height="39" fill="#737375"/>
<rect x="1635" y="607" width="7" height="1" fill="#225437"/>
<rect x="1648" y="580" width="1" height="62" fill="#737375"/>
<rect x="1645" y="604" width="7" height="4" fill="#225437"/>
<rect x="1646" y="605" width="5" height="2" fill="#6ba583"/>
<rect x="1658" y="595" width="1" height="97" fill="#737375"/>
<rect x="1655" y="607" width="7" height="71" fill="#5b1a13"/>
<rect x="1656" y="608" width="5" height="69" fill="#d75442"/>
<rect x="1668" y="674" width="1" height="52" fill="#737375"/>
<rect x="1665" y="679" width="7" height="11" fill="#5b1a13"/>
<rect x="1666" y="680" width="5" height="9" fill="#d75442"/>
<rect x="1678" y="679" width="1" height="51" fill="#737375"/>
<rect x="1675" y="684" width="7" height="32" fill="#5b1a13"/>
<rect x="1676" y="685" width="5" height="30" fill="#d75442"/>
<rect x="1689" y="701" width="1" height="29" fill="#737375"/>
<rect x="1686" y="715" width="7" height="8" fill="#5b1a13"/>
<rect x="1687" y="716" width="5" height="6" fill="#d75442"/>
<rect x="1699" y="717" width="1" height="28" fill="#737375"/>
<rect x="1696" y="727" width="7" height="13" fill="#5b1a13"/>
<rect x="1697" y="728" width="5" height="11" fill="#d75442"/>
<rect x="1709" y="725" width="1" height="25" fill="#737375"/>
<rect x="1706" y="734" width="7" height="6" fill="#225437"/>
<rect x="1707" y="735" width="5" height="4" fill="#6ba583"/>
<rect x="1719" y="710" width="1" height="37" fill="#737375"/>
<rect x="1716" y="715" width="7" height="20" fill="#225437"/>
<rect x="1717" y="716" width="5" height="18" fill="#6ba583"/>
<rect x="1729" y="710" width="1" height="35" fill="#737375"/>
<rect x="1726" y="725" width="7" height="1" fill="#225437"/>
<rect x="1740" y="722" width="1" height="32" fill="#737375"/>
<rect x="1737" y="722" width="7" height="6" fill="#5b1a13"/>
<rect x="1738" y="723" width="5" height="4" fill="#d75442"/>
<rect x="1750" y="722" width="1" height="18" fill="#737375"/>
<rect x="1747" y="727" width="7" height="3" fill="#5b1a13"/>
<rect x="1748" y="728" width="5" height="1" fill="#d75442"/>
<rect x="1760" y="696" width="1" height="42" fill="#737375"/>
<rect x="1757" y="727" width="7" height="6" fill="#225437"/>
<rect x="1758" y="728" width="5" height="4" fill="#6ba583"/>
<rect x="1770" y="713" width="1" height="25" fill="#737375"/>
<rect x="1767" y="720" width="7" height="6" fill="#225437"/>
<rect x="1768" y="721" width="5" height="4" fill="#6ba583"/>
<rect x="1780" y="705" width="1" height="25" fill="#737375"/>
<rect x="1777" y="708" width="7" height="15" fill="#225437"/>
<rect x="1778" y="709" width="5" height="13" fill="#6ba583"/>
<rect x="1791" y="703" width="1" height="18" fill="#737375"/>
<rect x="1788" y="705" width="7" height="6" fill="#5b1a13"/>
<rect x="1789" y="706" width="5" height="4" fill="#d75442"/>
<rect x="1801" y="689" width="1" height="25" fill="#737375"/>
<rect x="1798" y="701" width="7" height="8" fill="#225437"/>
<rect x="1799" y="702" width="5" height="6" fill="#6ba583"/>
<rect x="1811" y="693" width="1" height="33" fill="#737375"/>
<rect x="1808" y="701" width="7" height="10" fill="#5b1a13"/>
<rect x="1809" y="702" width="5" height="8" fill="#d75442"/>
<rect x="1821" y="710" width="1" height="49" fill="#737375"/>
<rect x="1818" y="710" width="7" height="35" fill="#5b1a13"/>
<rect x="1819" y="711" width="5" height="33" fill="#d75442"/>
<rect x="1831" y="725" width="1" height="46" fill="#737375"/>
<rect x="1828" y="727" width="7" height="15" fill="#225437"/>
<rect x="1829" y="728" width="5" height="13" fill="#6ba583"/>
<rect x="1842" y="710" width="1" height="40" fill="#737375"/>
<rect x="1839" y="727" width="7" height="13" fill="#5b1a13"/>
<rect x="1840" y="728" width="5" height="11" fill="#d75442"/>
<rect x="1852" y="722" width="1" height="37" fill="#737375"/>
<rect x="1849" y="739" width="7" height="15" fill="#5b1a13"/>
<rect x="1850" y="740" width="5" height="13" fill="#d75442"/>
<rect x="1862" y="751" width="1" height="37" fill="#737375"/>
<rect x="1859" y="753" width="7" height="28" fill="#5b1a13"/>
<rect x="1860" y="754" width="5" height="26" fill="#d75442"/>
<rect x="1872" y="734" width="1" height="52" fill="#737375"/>
<rect x="1869" y="773" width="7" height="5" fill="#225437"/>
<rect x="1870" y="774" width="5" height="3" fill="#6ba583"/>
<rect x="1882" y="662" width="1" height="142" fill="#737375"/>
<rect x="1879" y="681" width="7" height="90" fill="#225437"/>
<rect x="1880" y="682" width="5" height="88" fill="#6ba583"/>
<rect x="1893" y="653" width="1" height="82" fill="#737375"/>
<rect x="1890" y="679" width="7" height="6" fill="#5b1a13"/>
<rect x="1891" y="680" width="5" height="4" fill="#d75442"/>
<rect x="1903" y="662" width="1" height="49" fill="#737375"/>
<rect x="1900" y="677" width="7" height="8" fill="#225437"/>
<rect x="1901" y="678" width="5" height="6" fill="#6ba583"/>
<rect x="1913" y="638" width="1" height="44" fill="#737375"/>
<rect x="1910" y="648" width="7" height="27" fill="#225437"/>
<rect x="1911" y="649" width="5" height="25" fill="#6ba583"/>
<rect x="1923" y="619" width="1" height="39" fill="#737375"/>
<rect x="1920" y="621" width="7" height="30" fill="#225437"/>
<rect x="1921" y="622" width="5" height="28" fill="#6ba583"/>
<rect x="1933" y="559" width="1" height="80" fill="#737375"/>
<rect x="1930" y="561" width="7" height="61" fill="#225437"/>
<rect x="1931" y="562" width="5" height="59" fill="#6ba583"/>
<rect x="1944" y="523" width="1" height="44" fill="#737375"/>
<rect x="1941" y="544" width="7" height="16" fill="#225437"/>
<rect x="1942" y="545" width="5" height="14" fill="#6ba583"/>
<rect x="1954" y="537" width="1" height="23" fill="#737375"/>
<rect x="1951" y="544" width="7" height="6" fill="#5b1a13"/>
<rect x="1952" y="545" width="5" height="4" fill="#d75442"/>
<rect x="1964" y="540" width="1" height="46" fill="#737375"/>
<rect x="1961" y="549" width="7" height="20" fill="#5b1a13"/>
<rect x="1962" y="550" width="5" height="18" fill="#d75442"/>
<rect x="1974" y="544" width="1" height="25" fill="#737375"/>
<rect x="1971" y="559" width="7" height="1" fill="#225437"/>
<rect x="1984" y="549" width="1" height="18" fill="#737375"/>
<rect x="1981" y="556" width="7" height="1" fill="#225437"/>
<rect x="1995" y="554" width="1" height="39" fill="#737375"/>
<rect x="1992" y="556" width="7" height="23" fill="#5b1a13"/>
<rect x="1993" y="557" width="5" height="21" fill="#d75442"/>
<rect x="2005" y="559" width="1" height="32" fill="#737375"/>
<rect x="2002" y="564" width="7" height="15" fill="#225437"/>
<rect x="2003" y="565" width="5" height="13" fill="#6ba583"/>
<rect x="2015" y="561" width="1" height="21" fill="#737375"/>
<rect x="2012" y="564" width="7" height="10" fill="#5b1a13"/>
<rect x="2013" y="565" width="5" height="8" fill="#d75442"/>
<rect x="2025" y="564" width="1" height="22" fill="#737375"/>
<rect x="2022" y="576" width="7" height="8" fill="#5b1a13"/>
<rect x="2023" y="577" width="5" height="6" fill="#d75442"/>
<rect x="2035" y="571" width="1" height="22" fill="#737375"/>
<rect x="2032" y="573" width="7" height="8" fill="#225437"/>
<rect x="2033" y="574" width="5" height="6" fill="#6ba583"/>
<rect x="2046" y="571" width="1" height="20" fill="#737375"/>
<rect x="2043" y="573" width="7" height="11" fill="#5b1a13"/>
<rect x="2044" y="574" width="5" height="9" fill="#d75442"/>
<rect x="2056" y="520" width="1" height="73" fill="#737375"/>
<rect x="2053" y="525" width="7" height="59" fill="#225437"/>
<rect x="2054" y="526" width="5" height="57" fill="#6ba583"/>
<rect x="2066" y="516" width="1" height="49" fill="#737375"/>
<rect x="2063" y="518" width="7" height="8" fill="#225437"/>
<rect x="2064" y="519" width="5" height="6" fill="#6ba583"/>
<rect x="2076" y="492" width="1" height="32" fill="#737375"/>
<rect x="2073" y="513" width="7" height="6" fill="#225437"/>
<rect x="2074" y="514" width="5" height="4" fill="#6ba583"/>
<rect x="2086" y="487" width="1" height="34" fill="#737375"/>
<rect x="2083" y="501" width="7" height="11" fill="#225437"/>
<rect x="2084" y="502" width="5" height="9" fill="#6ba583"/>
<rect x="2097" y="482" width="1" height="47" fill="#737375"/>
<rect x="2094" y="487" width="7" height="15" fill="#225437"/>
<rect x="2095" y="488" width="5" height="13" fill="#6ba583"/>
<rect x="2107" y="484" width="1" height="28" fill="#737375"/>
<rect x="2104" y="487" width="7" height="10" fill="#5b1a13"/>
<rect x="2105" y="488" width="5" height="8" fill="#d75442"/>
<rect x="2117" y="494" width="1" height="37" fill="#737375"/>
<rect x="2114" y="499" width="7" height="27" fill="#5b1a13"/>
<rect x="2115" y="500" width="5" height="25" fill="#d75442"/>
<rect x="2127" y="508" width="1" height="33" fill="#737375"/>
<rect x="2124" y="520" width="7" height="6" fill="#225437"/>
<rect x="2125" y="521" width="5" height="4" fill="#6ba583"/>
<rect x="2137" y="518" width="1" height="30" fill="#737375"/>
<rect x="2134" y="523" width="7" height="13" fill="#5b1a13"/>
<rect x="2135" y="524" width="5" height="11" fill="#d75442"/>
<rect x="2147" y="499" width="1" height="42" fill="#737375"/>
<rect x="2144" y="504" width="7" height="34" fill="#225437"/>
<rect x="2145" y="505" width="5" height="32" fill="#6ba583"/>
<rect x="2158" y="489" width="1" height="28" fill="#737375"/>
<rect x="2155" y="494" width="7" height="13" fill="#225437"/>
<rect x="2156" y="495" width="5" height="11" fill="#6ba583"/>
<rect x="2168" y="494" width="1" height="35" fill="#737375"/>
<rect x="2165" y="496" width="7" height="13" fill="#5b1a13"/>
<rect x="2166" y="497" width="5" height="11" fill="#d75442"/>
<rect x="2178" y="496" width="1" height="28" fill="#737375"/>
<rect x="2175" y="504" width="7" height="8" fill="#5b1a13"/>
<rect x="2176" y="505" width="5" height="6" fill="#d75442"/>
<rect x="2188" y="499" width="1" height="34" fill="#737375"/>
<rect x="2185" y="511" width="7" height="1" fill="#225437"/>
<rect x="2198" y="508" width="1" height="28" fill="#737375"/>
<rect x="2195" y="516" width="7" height="10" fill="#5b1a13"/>
<rect x="2196" y="517" width="5" height="8" fill="#d75442"/>
<rect x="2209" y="513" width="1" height="30" fill="#737375"/>
<rect x="2206" y="523" width="7" height="15" fill="#225437"/>
<rect x="2207" y="524" width="5" height="13" fill="#6ba583"/>
<rect x="2219" y="489" width="1" height="42" fill="#737375"/>
<rect x="2216" y="496" width="7" height="28" fill="#225437"/>
<rect x="2217" y="497" width="5" height="26" fill="#6ba583"/>
<rect x="2229" y="492" width="1" height="20" fill="#737375"/>
<rect x="2226" y="496" width="7" height="9" fill="#5b1a13"/>
<rect x="2227" y="497" width="5" height="7" fill="#d75442"/>
<rect x="2239" y="484" width="1" height="30" fill="#737375"/>
<rect x="2236" y="494" width="7" height="13" fill="#225437"/>
<rect x="2237" y="495" width="5" height="11" fill="#6ba583"/>
<rect x="2249" y="453" width="1" height="49" fill="#737375"/>
<rect x="2246" y="455" width="7" height="38" fill="#225437"/>
<rect x="2247" y="456" width="5" height="36" fill="#6ba583"/>
<rect x="2260" y="441" width="1" height="23" fill="#737375"/>
<rect x="2257" y="453" width="7" height="6" fill="#225437"/>
<rect x="2258" y="454" width="5" height="4" fill="#6ba583"/>
</g>
<rect x="11" y="120.0" width="2306" height="2.8" fill="#ff9800"/>
<rect x="11" y="316.1" width="2306" height="2.8" fill="#ff9800"/>
<rect x="11" y="582.0" width="2306" height="2.8" fill="#ff9800"/>
<rect x="11" y="795.9" width="2306" height="2.8" fill="#ff9800"/>
<line x1="1627.7" y1="723.9" x2="1882" y2="805.9" stroke="#4caf50" stroke-width="4" stroke-dasharray="20.4 23.6"/>
</svg>
<svg x="11" y="868" width="2306" height="229" viewBox="11 868 2306 229">
<polyline fill="none" stroke="#4caf50" stroke-width="3" stroke-linejoin="round" stroke-linecap="butt" points="10.5,924.7 17.0,926.7 27.2,921.4 37.4,923.7 47.6,946.8 57.8,971.0 68.0,973.1 78.2,971.3 88.4,966.8 98.6,950.1 108.8,912.5 119.0,892.5 129.2,917.6 139.4,940.4 149.6,931.7 159.8,925.1 170.0,910.9 180.2,891.7 190.4,959.3 200.6,948.4 210.8,971.0 221.0,961.8 231.2,971.5 241.4,982.3 251.5,976.0 261.7,976.0 271.9,969.0 282.1,969.0 292.3,978.0 302.5,976.0 312.7,983.2 322.9,998.2 333.1,985.7 343.3,993.2 353.5,982.7 363.7,991.0 373.9,959.3 384.1,981.3 394.3,959.0 404.5,1062.0 414.7,1031.6 424.9,1032.7 435.1,1067.5 445.3,1047.8 455.5,1028.9 465.7,1024.1 475.9,1010.5 486.1,998.0 496.3,1022.4 506.4,1020.2 516.6,1015.2 526.8,1023.6 537.0,1025.2 547.2,989.8 557.4,994.8 567.6,998.5 577.8,1007.4 588.0,996.9 598.2,1006.4 608.4,1027.7 618.6,1027.7 628.8,1034.9 639.0,1048.1 649.2,1053.1 659.4,1030.7 669.6,981.0 679.8,1004.9 690.0,1030.2 700.2,1023.9 710.4,1042.8 720.6,1060.3 730.8,1029.9 741.0,1048.1 751.1,1044.1 761.3,1019.4 771.5,1008.0 781.7,1014.4 791.9,1028.6 802.1,1030.2 812.3,1019.4 822.5,1007.4 832.7,1000.7 842.9,947.9 853.1,943.4 863.3,948.4 873.5,971.0 883.7,977.3 893.9,1016.9 904.1,995.2 914.3,976.0 924.5,1009.7 934.7,1004.4 944.9,1021.6 955.1,1021.6 965.3,1031.1 975.5,1036.9 985.7,1018.6 995.8,1022.2 1006.0,1025.7 1016.2,1027.7 1026.4,1051.9 1036.6,1041.4 1046.8,1041.4 1057.0,1044.9 1067.2,1046.9 1077.4,1007.7 1087.6,1023.2 1097.8,1047.8 1108.0,1078.7 1118.2,1035.8 1128.4,1052.8 1138.6,1070.6 1148.8,1074.5 1159.0,1048.1 1169.2,1048.1 1179.4,1023.2 1189.6,1027.7 1199.8,1016.4 1210.0,1007.4 1220.2,1007.4 1230.4,1036.9 1240.6,1029.4 1250.7,1016.9 1260.9,1022.4 1271.1,989.0 1281.3,984.8 1291.5,991.3 1301.7,991.3 1311.9,1001.9 1322.1,1004.5 1332.3,1023.6 1342.5,1041.4 1352.7,1032.2 1362.9,971.3 1373.1,961.0 1383.3,950.9 1393.5,1006.5 1403.7,1012.4 1413.9,1051.9 1424.1,1064.8 1434.3,1070.3 1444.5,1043.9 1454.7,1054.8 1464.9,995.7 1475.1,1003.2 1485.3,1006.2 1495.4,1002.9 1505.6,1002.9 1515.8,1029.7 1526.0,1021.4 1536.2,1022.7 1546.4,1016.1 1556.6,1017.7 1566.8,1025.2 1577.0,1020.2 1587.2,1006.4 1597.4,1073.6 1607.6,1075.7 1617.8,1042.8 1628.0,1004.4 1638.2,1002.4 1648.4,1000.5 1658.6,1046.1 1668.8,1051.9 1679.0,1065.3 1689.2,1068.6 1699.4,1076.2 1709.6,1071.6 1719.8,1051.4 1730.0,1056.6 1740.2,1058.3 1750.3,1059.8 1760.5,1056.6 1770.7,1046.9 1780.9,1031.6 1791.1,1033.2 1801.3,1020.7 1811.5,1030.2 1821.7,1058.6 1831.9,1036.4 1842.1,1045.6 1852.3,1057.8 1862.5,1075.3 1872.7,1065.8 1882.9,972.1 1893.1,974.0 1903.3,968.5 1913.5,947.1 1923.7,930.1 1933.9,899.7 1944.1,892.8 1954.3,898.0 1964.5,918.4 1974.7,913.4 1984.9,912.0 1995.0,936.3 2005.2,927.2 2015.4,937.9 2025.6,948.8 2035.8,941.8 2046.0,952.6 2056.2,913.9 2066.4,910.0 2076.6,907.2 2086.8,900.0 2097.0,892.5 2107.2,905.9 2117.4,942.1 2127.6,938.4 2137.8,955.6 2148.0,931.7 2158.2,925.6 2168.4,943.1 2178.6,945.6 2188.8,945.6 2199.0,964.6 2209.2,962.3 2219.4,937.6 2229.6,947.3 2239.7,938.4 2249.9,908.4 2260.1,906.7"/>
<line x1="1597" y1="1079" x2="1881" y2="1080.2" stroke="#4caf50" stroke-width="3.5" stroke-dasharray="19.7 24.3"/>
</svg>
<g fill="#4a4a4a" shape-rendering="crispEdges">
<rect x="9" y="66" width="2397" height="2"/>
<rect x="9" y="1140" width="2397" height="2"/>
<rect x="9" y="66" width="2" height="1076"/>
<rect x="2404" y="66" width="2" height="1076"/>
<rect x="2317" y="68" width="1" height="1072"/>
<rect x="11" y="867" width="2393" height="1"/>
<rect x="11" y="1097" width="2393" height="1"/>
<rect x="2318" y="102" width="7" height="1"/>
<rect x="2318" y="150" width="7" height="1"/>
<rect x="2318" y="198" width="7" height="1"/>
<rect x="2318" y="246" width="7" height="1"/>
<rect x="2318" y="294" width="7" height="1"/>
<rect x="2318" y="343" width="7" height="1"/>
<rect x="2318" y="391" width="7" height="1"/>
<rect x="2318" y="439" width="7" height="1"/>
<rect x="2318" y="487" width="7" height="1"/>
<rect x="2318" y="535" width="7" height="1"/>
<rect x="2318" y="583" width="7" height="1"/>
<rect x="2318" y="631" width="7" height="1"/>
<rect x="2318" y="679" width="7" height="1"/>
<rect x="2318" y="727" width="7" height="1"/>
<rect x="2318" y="775" width="7" height="1"/>
<rect x="2318" y="823" width="7" height="1"/>
<rect x="2318" y="946.5" width="7" height="1.3" fill="#a6a6a6"/>
<rect x="2318" y="1034.5" width="7" height="1.3" fill="#a6a6a6"/>
<rect x="37" y="1098" width="1" height="7"/>
<rect x="282" y="1098" width="1" height="7"/>
<rect x="526" y="1098" width="1" height="7"/>
<rect x="771" y="1098" width="1" height="7"/>
<rect x="1016" y="1098" width="1" height="7"/>
<rect x="1260" y="1098" width="1" height="7"/>
<rect x="1505" y="1098" width="1" height="7"/>
<rect x="1750" y="1098" width="1" height="7"/>
<rect x="1984" y="1098" width="1" height="7"/>
<rect x="2229" y="1098" width="1" height="7"/>
</g>
</svg>
<section class="legend">
<div class="t" style="left:22.89px;top:84.00px;font-size:20px;color:#555555;font-weight:bold;transform:scaleX(0.9641);">British Pound / U.S. Dollar, 1h, IDC</div>
<div class="t" style="left:23.02px;top:112.00px;font-size:19.5px;color:#555555;-webkit-text-stroke:0.3px #555555;transform:scaleX(1.0501);">MA (20, close) [object Object]</div>
<div class="t" style="left:23.02px;top:139.00px;font-size:19.5px;color:#555555;-webkit-text-stroke:0.3px #555555;transform:scaleX(1.0501);">MA (30, close) [object Object]</div>
<div class="t" style="left:22.16px;top:885.30px;font-size:19.5px;color:#555555;-webkit-text-stroke:0.3px #555555;transform:scaleX(1.0222);">RSI (14, close) [object Object]</div>
</section>
<section class="price-axis">
<div class="t" style="left:2332.96px;top:93.00px;font-size:19.5px;color:#555555;-webkit-text-stroke:0.3px #555555;transform:scaleX(0.9657);">1.4020</div>
<div class="t" style="left:2332.96px;top:141.00px;font-size:19.5px;color:#555555;-webkit-text-stroke:0.3px #555555;transform:scaleX(0.9657);">1.4000</div>
<div class="t" style="left:2332.96px;top:189.00px;font-size:19.5px;color:#555555;-webkit-text-stroke:0.3px #555555;transform:scaleX(0.9657);">1.3980</div>
<div class="t" style="left:2332.96px;top:237.00px;font-size:19.5px;color:#555555;-webkit-text-stroke:0.3px #555555;transform:scaleX(0.9657);">1.3960</div>
<div class="t" style="left:2332.96px;top:285.00px;font-size:19.5px;color:#555555;-webkit-text-stroke:0.3px #555555;transform:scaleX(0.9657);">1.3940</div>
<div class="t" style="left:2332.96px;top:334.00px;font-size:19.5px;color:#555555;-webkit-text-stroke:0.3px #555555;transform:scaleX(0.9657);">1.3920</div>
<div class="t" style="left:2332.96px;top:382.00px;font-size:19.5px;color:#555555;-webkit-text-stroke:0.3px #555555;transform:scaleX(0.9657);">1.3900</div>
<div class="t" style="left:2332.96px;top:430.00px;font-size:19.5px;color:#555555;-webkit-text-stroke:0.3px #555555;transform:scaleX(0.9657);">1.3880</div>
<div class="t" style="left:2332.96px;top:478.00px;font-size:19.5px;color:#555555;-webkit-text-stroke:0.3px #555555;transform:scaleX(0.9657);">1.3860</div>
<div class="t" style="left:2332.96px;top:526.00px;font-size:19.5px;color:#555555;-webkit-text-stroke:0.3px #555555;transform:scaleX(0.9657);">1.3840</div>
<div class="t" style="left:2332.96px;top:574.00px;font-size:19.5px;color:#555555;-webkit-text-stroke:0.3px #555555;transform:scaleX(0.9657);">1.3820</div>
<div class="t" style="left:2332.96px;top:622.00px;font-size:19.5px;color:#555555;-webkit-text-stroke:0.3px #555555;transform:scaleX(0.9657);">1.3800</div>
<div class="t" style="left:2332.96px;top:670.00px;font-size:19.5px;color:#555555;-webkit-text-stroke:0.3px #555555;transform:scaleX(0.9657);">1.3780</div>
<div class="t" style="left:2332.96px;top:718.00px;font-size:19.5px;color:#555555;-webkit-text-stroke:0.3px #555555;transform:scaleX(0.9657);">1.3760</div>
<div class="t" style="left:2332.96px;top:766.00px;font-size:19.5px;color:#555555;-webkit-text-stroke:0.3px #555555;transform:scaleX(0.9657);">1.3740</div>
<div class="t" style="left:2332.96px;top:814.00px;font-size:19.5px;color:#555555;-webkit-text-stroke:0.3px #555555;transform:scaleX(0.9657);">1.3720</div>
<div class="t" style="left:2332.69px;top:937.60px;font-size:19.5px;color:#666666;-webkit-text-stroke:0.3px #666666;transform:scaleX(0.9810);">60.00</div>
<div class="t" style="left:2333.25px;top:1025.60px;font-size:19.5px;color:#666666;-webkit-text-stroke:0.3px #666666;transform:scaleX(0.9693);">40.00</div>
<div class="ob" style="top:108px"><i></i><span class="t" style="left:16.05px;top:4.70px;font-size:19.5px;color:#000000;-webkit-text-stroke:0.3px #000000;transform:scaleX(0.9702);">1.4012</span></div>
<div class="ob" style="top:304px"><i></i><span class="t" style="left:16.05px;top:4.80px;font-size:19.5px;color:#000000;-webkit-text-stroke:0.3px #000000;transform:scaleX(0.9675);">1.3930</span></div>
<div class="ob" style="top:570px"><i></i><span class="t" style="left:16.05px;top:4.70px;font-size:19.5px;color:#000000;-webkit-text-stroke:0.3px #000000;transform:scaleX(0.9675);">1.3820</span></div>
<div class="ob" style="top:784px"><i></i><span class="t" style="left:16.05px;top:4.60px;font-size:19.5px;color:#000000;-webkit-text-stroke:0.3px #000000;transform:scaleX(0.9697);">1.3731</span></div>
<div class="usd"><span class="t" style="left:4.78px;top:3.90px;font-size:19.5px;color:#555555;-webkit-text-stroke:0.3px #555555;transform:scaleX(0.8110);">USD</span></div>
</section>
<section class="time-axis">
<div class="t" style="left:26.90px;top:1109.00px;font-size:20px;color:#555555;-webkit-text-stroke:0.3px #555555;transform:scaleX(0.9300);">23</div>
<div class="t" style="left:271.73px;top:1109.00px;font-size:20px;color:#555555;-webkit-text-stroke:0.3px #555555;transform:scaleX(0.9300);">24</div>
<div class="t" style="left:515.87px;top:1109.00px;font-size:20px;color:#555555;-webkit-text-stroke:0.3px #555555;transform:scaleX(0.9300);">25</div>
<div class="t" style="left:760.89px;top:1109.00px;font-size:20px;color:#555555;-webkit-text-stroke:0.3px #555555;transform:scaleX(0.9300);">28</div>
<div class="t" style="left:1005.91px;top:1109.00px;font-size:20px;color:#555555;-webkit-text-stroke:0.3px #555555;transform:scaleX(0.9300);">29</div>
<div class="t" style="left:1249.82px;top:1109.00px;font-size:20px;color:#555555;-webkit-text-stroke:0.3px #555555;transform:scaleX(0.9300);">30</div>
<div class="t" style="left:1493.73px;top:1109.00px;font-size:20px;color:#555555;-webkit-text-stroke:0.3px #555555;transform:scaleX(0.9300);">Jul</div>
<div class="t" style="left:1745.03px;top:1109.00px;font-size:20px;color:#555555;-webkit-text-stroke:0.3px #555555;transform:scaleX(0.9300);">2</div>
<div class="t" style="left:1978.96px;top:1109.00px;font-size:20px;color:#555555;-webkit-text-stroke:0.3px #555555;transform:scaleX(0.9300);">5</div>
<div class="t" style="left:2223.96px;top:1109.00px;font-size:20px;color:#555555;-webkit-text-stroke:0.3px #555555;transform:scaleX(0.9300);">6</div>
</section>
</main>
<footer><svg class="logo" width="60" height="53" viewBox="0 0 60 53" aria-hidden="true"><g fill="#2d66ff"><circle cx="26.3" cy="21.3" r="8.6"/><circle cx="16.1" cy="28.4" r="7.3"/><circle cx="39.6" cy="24.2" r="5.2"/><circle cx="43.9" cy="29.9" r="6.2"/><rect x="16" y="22" width="28" height="14.1"/></g><path d="M9.9 33.1L24.4 21.9L34.4 30.6L44.7 20.7" fill="none" stroke="#fff" stroke-width="1.5"/><circle cx="24.4" cy="21.9" r="3.1" fill="#fff"/><circle cx="34.4" cy="30.6" r="3.1" fill="#fff"/></svg>
<span class="t" style="left:52.53px;top:1158.80px;font-size:20px;color:#131722;-webkit-text-stroke:0.3px #131722;transform:scaleX(1.0258);">TradingView</span>
</footer>
</body></html>
